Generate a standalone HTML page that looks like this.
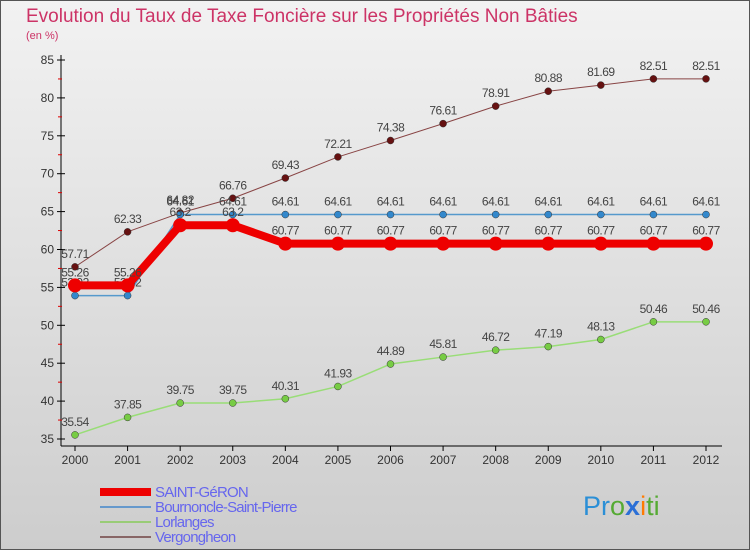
<!DOCTYPE html>
<html><head><meta charset="utf-8"><style>
body{margin:0;width:750px;height:550px;overflow:hidden;font-family:"Liberation Sans",sans-serif}
</style></head><body>
<svg id="c" width="750" height="550" xmlns="http://www.w3.org/2000/svg">
<defs><linearGradient id="bg" x1="0" y1="0" x2="0" y2="1"><stop offset="0" stop-color="#f2f2f2"/><stop offset="1" stop-color="#cdcdcd"/></linearGradient></defs>
<rect x="0.5" y="0.5" width="749" height="549" fill="url(#bg)" stroke="#555"/>
<text x="26" y="22" font-size="19" fill="#cc3366">Evolution du Taux de Taxe Foncière sur les Propriétés Non Bâties</text>
<text x="26" y="39" font-size="11" fill="#cc3366">(en %)</text>
<g id="axes"></g><g id="series"></g><g id="legend"></g>
<text x="583" y="515" font-size="27"><tspan fill="#2b8fd6">Pr</tspan><tspan fill="#55aa33">o</tspan><tspan fill="#2b6fd6" font-weight="bold">x</tspan><tspan fill="#ff7a00">i</tspan><tspan fill="#55aa33">ti</tspan></text>
</svg>
<script>
const years=[2000,2001,2002,2003,2004,2005,2006,2007,2008,2009,2010,2011,2012];
const yTicks=[35,40,45,50,55,60,65,70,75,80,85];
const saintGeron=[55.26,55.26,63.2,63.2,60.77,60.77,60.77,60.77,60.77,60.77,60.77,60.77,60.77];
const bournoncle=[53.92,53.92,64.61,64.61,64.61,64.61,64.61,64.61,64.61,64.61,64.61,64.61,64.61];
const lorlanges=[35.54,37.85,39.75,39.75,40.31,41.93,44.89,45.81,46.72,47.19,48.13,50.46,50.46];
const vergongheon=[57.71,62.33,64.82,66.76,69.43,72.21,74.38,76.61,78.91,80.88,81.69,82.51,82.51];
const seriesNames=["SAINT-GéRON","Bournoncle-Saint-Pierre","Lorlanges","Vergongheon"];
const NS="http://www.w3.org/2000/svg";
const X=i=>75+i*(706-75)/(years.length-1);
const Y=v=>439-(v-35)*(379/50);
function mk(p,t,a){const e=document.createElementNS(NS,t);for(const k in a)e.setAttribute(k,a[k]);p.appendChild(e);return e;}
const ax=document.getElementById('axes');
let l=mk(ax,'line',{x1:61,y1:55,x2:61,y2:446,stroke:'#000'});


l=mk(ax,'line',{x1:61,y1:446,x2:722,y2:446,stroke:'#000'});


yTicks.forEach((v,k)=>{const y=Y(v);
 mk(ax,'line',{x1:57,y1:y,x2:65,y2:y,stroke:'#000'});
 if(k<yTicks.length-1) mk(ax,'line',{x1:58,y1:Y(v+2.5),x2:62,y2:Y(v+2.5),stroke:'#d00'});
 const t=mk(ax,'text',{x:54,y:y+4,'font-size':12,'text-anchor':'end',fill:'#333'});t.textContent=v;
 
 });
years.forEach((yr,i)=>{const x=X(i);mk(ax,'line',{x1:x,y1:446,x2:x,y2:451,stroke:'#000'});
 const t=mk(ax,'text',{x:x,y:464,'font-size':12,'text-anchor':'middle',fill:'#333'});t.textContent=yr;
 
 });
const sg=document.getElementById('series');
const defs=[[lorlanges,'#99dd77','#77cc44',1.5,3.5,'lorlanges'],[vergongheon,'#884444','#661111',1,3.5,'vergongheon'],[bournoncle,'#5599cc','#3388cc',1.5,3.5,'bournoncle'],[saintGeron,'#ee0000','#ee0000',8,7,'saint-geron']];
defs.forEach(([d,c,dc,w,r,n])=>{
 const g=mk(sg,'g',{});
 
 
 const p=mk(g,'polyline',{points:d.map((v,i)=>X(i)+','+Y(v)).join(' '),fill:'none',stroke:c,'stroke-width':w});
 
 
 d.forEach((v,i)=>{const cc=mk(g,'circle',{cx:X(i),cy:Y(v),r:r,fill:dc,stroke:n=='saint-geron'?'none':'#333','stroke-width':0.5});
  
  
  const t=mk(g,'text',{x:X(i),y:Y(v)-9,'font-size':12,'text-anchor':'middle',fill:'#444','letter-spacing':'-0.5'});t.textContent=v;
  
  });
});
const lg=document.getElementById('legend');
const lc=[['#ee0000',8],['#6699cc',2],['#99cc77',2],['#886666',2]];
seriesNames.forEach((s,k)=>{const y=492+k*15;
 const g=mk(lg,'g',{});
 
 
 mk(g,'line',{x1:100,y1:y,x2:151,y2:y,stroke:lc[k][0],'stroke-width':lc[k][1]});
 const t=mk(g,'text',{x:155,y:y+5,'font-size':15,fill:'#6666ee','letter-spacing':'-0.8'});t.textContent=s;});
</script>
</body></html>
